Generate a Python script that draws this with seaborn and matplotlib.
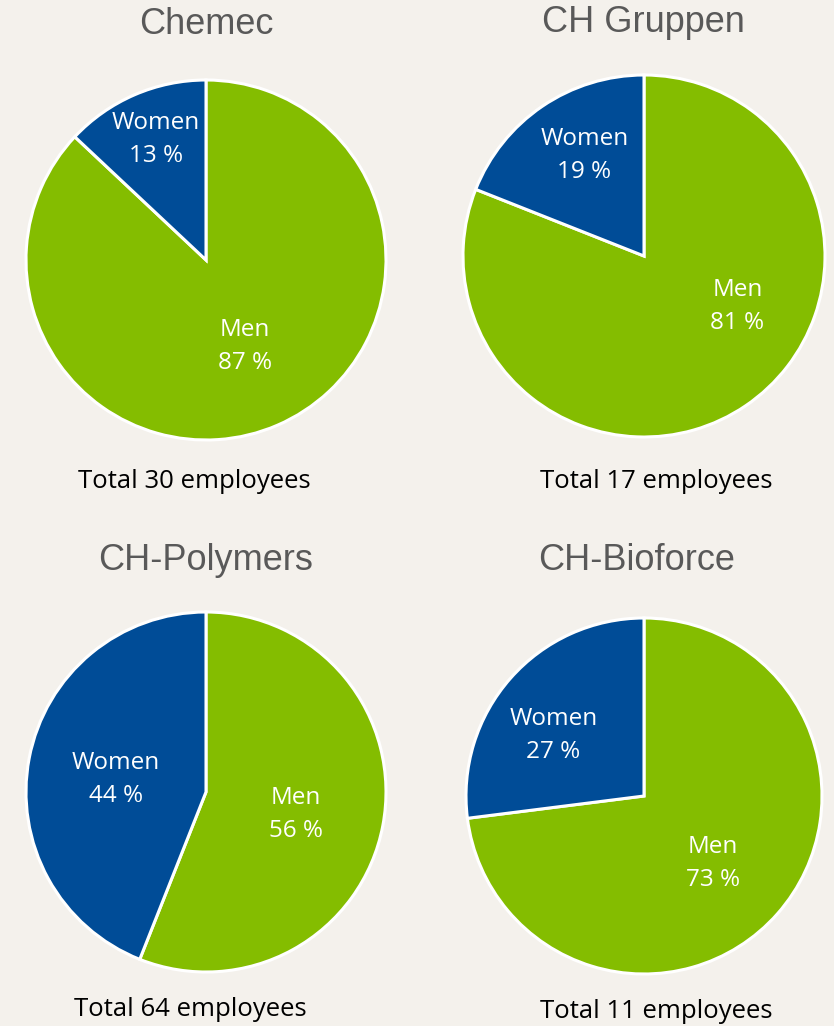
import matplotlib
matplotlib.use("Agg")
import matplotlib.pyplot as plt
import matplotlib.transforms as mtransforms
import seaborn as sns
import numpy as np

sns.set_theme(style="white")

# data
companies = ["Chemec", "CH Gruppen", "CH-Polymers", "CH-Bioforce"]
categories = ["Men", "Women"]
men_pct = [87, 81, 56, 73]
women_pct = [13, 19, 44, 27]
totals = [30, 17, 64, 11]

# layout in pixels (centre x, centre y, radius) of each pie
W, H = 834, 1026
pie_px = [(206, 260, 180), (644, 256, 181), (206, 792, 180), (644, 796, 178)]
title_y = [25, 23, 560, 560]
title_x = [206, 643, 206, 637]
total_y = [482, 482, 1009, 1011]
total_x = [194, 656, 190, 656]
# label placement (radius fraction, angle in degrees) for men / women
label_pos = [[(0.51, -65), (0.74, 112)],
             [(0.58, -27), (0.66, 120)],
             [(0.51, -12), (0.51, 170)],
             [(0.53, -43), (0.62, 145)]]

bg = "#F4F1EC"
colors = ["#84BD00", "#004C97"]

fig = plt.figure(figsize=(W / 100, H / 100), dpi=100, facecolor=bg)

for i, name in enumerate(companies):
    cx, cy, r = pie_px[i]
    ax = fig.add_axes([(cx - r) / W, (H - cy - r) / H, 2 * r / W, 2 * r / H])
    ax.set_facecolor(bg)
    vals = [men_pct[i], women_pct[i]]
    wedges, _ = ax.pie(vals, colors=colors, startangle=90, counterclock=False, radius=1,
                       wedgeprops=dict(edgecolor="white", linewidth=2.2))
    for w in wedges:
        w.set_clip_on(False)
    ax.set_xlim(-1, 1)
    ax.set_ylim(-1, 1)
    ax.axis("off")
    shifted = mtransforms.offset_copy(ax.transData, fig=fig, x=0, y=-3, units="dots")
    for j, cat in enumerate(categories):
        rr, ang = label_pos[i][j]
        x = rr * np.cos(np.radians(ang))
        y = rr * np.sin(np.radians(ang))
        ax.text(x, y, f"{cat}\n{vals[j]} %", ha="center", va="center", transform=shifted,
                color="white", fontsize=17.5, family="Open Sans", linespacing=1.5)

    fig.text(title_x[i] / W, 1 - title_y[i] / H, name, ha="center", va="center",
             fontsize=26, color="#595959", family="Liberation Sans")
    fig.text(total_x[i] / W, 1 - total_y[i] / H, f"Total {totals[i]} employees",
             ha="center", va="center", fontsize=18.5, color="black", family="Open Sans")

fig.savefig("out.png", dpi=100, facecolor=bg)
